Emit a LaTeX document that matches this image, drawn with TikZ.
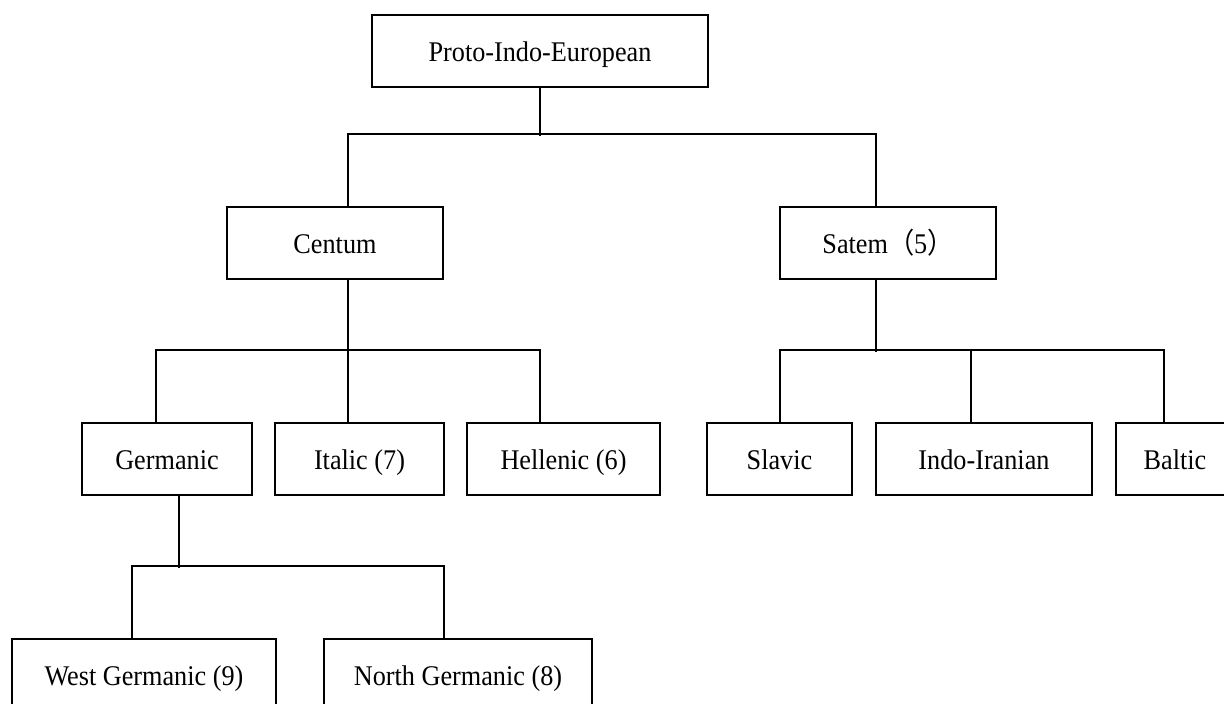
\documentclass[tikz,border=0pt]{standalone}
\usepackage{fontspec}
\setmainfont[FakeStretch=0.92]{Liberation Serif}
\newfontfamily\cjk[FakeStretch=0.92]{Noto Sans CJK SC}
\begin{document}
\begin{tikzpicture}[x=1pt,y=1pt,
  tbox/.style={draw,line width=1.8pt,minimum height=72pt,inner sep=0pt,
    text height=25pt,text depth=4pt,
    font=\fontsize{28.5}{32}\selectfont},
  conn/.style={line width=1.8pt}]
\useasboundingbox (0,0) rectangle (1224,-704);
\clip (0,0) rectangle (1224,-704);
\node[tbox,minimum width=336pt] (pie) at (540,-51) {Proto-Indo-European};
\node[tbox,minimum width=216pt] (centum) at (335,-243) {Centum};
\node[tbox,minimum width=216pt] (satem) at (888,-243) {Satem{\cjk （}5{\cjk ）}};
\node[tbox,minimum width=170pt] (germanic) at (167,-459) {Germanic};
\node[tbox,minimum width=169pt] (italic) at (359.5,-459) {Italic (7)};
\node[tbox,minimum width=193pt] (hellenic) at (563.5,-459) {Hellenic (6)};
\node[tbox,minimum width=145pt] (slavic) at (779.5,-459) {Slavic};
\node[tbox,minimum width=216pt] (indo) at (984,-459) {Indo-Iranian};
\node[tbox,minimum width=118pt] (baltic) at (1175,-459) {Baltic};
\node[tbox,minimum width=264pt] (west) at (144,-675) {West Germanic (9)};
\node[tbox,minimum width=268pt] (north) at (458,-675) {North Germanic (8)};
% level 1
\draw[conn] (pie.south) -- ++(0,-48);
\draw[conn] ([xshift=13pt]centum.north) -- ++(0,72) -| ([xshift=-12pt]satem.north);
% level 2 left
\draw[conn] ([xshift=13pt]centum.south) -- ([xshift=-11.5pt]italic.north);
\draw[conn] ([xshift=-11pt]germanic.north) -- ++(0,72) -| ([xshift=-23.5pt]hellenic.north);
% level 2 right
\draw[conn] ([xshift=-12pt]satem.south) -- ++(0,-72);
\draw[conn] ([xshift=0.5pt]slavic.north) -- ++(0,72) -| ([xshift=-11pt]baltic.north);
\draw[conn] ([xshift=-13pt]indo.north) -- ++(0,72);
% level 3
\draw[conn] ([xshift=12pt]germanic.south) -- ++(0,-72);
\draw[conn] ([xshift=-12pt]west.north) -- ++(0,72) -| ([xshift=-14pt]north.north);
\end{tikzpicture}
\end{document}
